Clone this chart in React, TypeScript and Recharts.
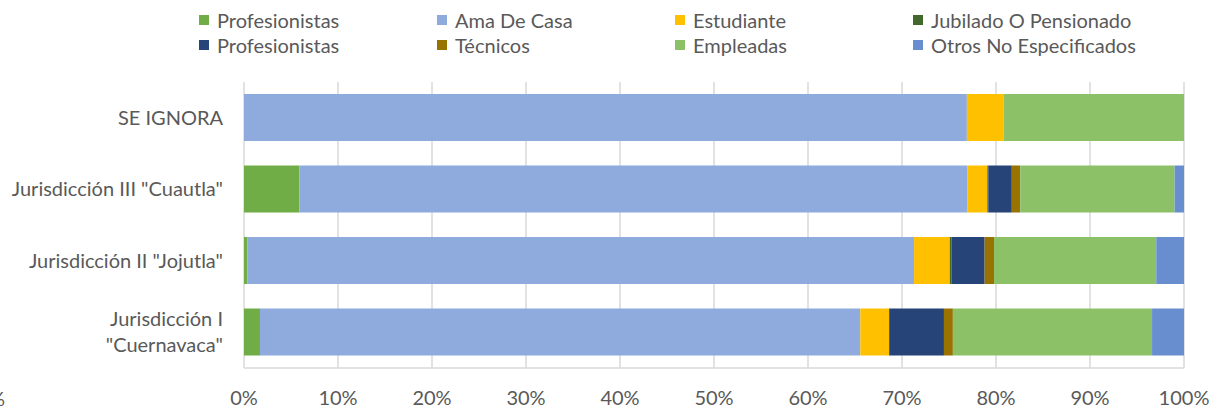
import React from "react";
import {
  BarChart,
  Bar,
  XAxis,
  YAxis,
  CartesianGrid,
  Legend,
} from "recharts";

const categories = [
  "SE IGNORA",
  'Jurisdicción III "Cuautla"',
  'Jurisdicción II "Jojutla"',
  'Jurisdicción I\n"Cuernavaca"',
];

// percentages per category (same order as categories)
const profesionistas = [0, 5.9, 0.35, 1.7];
const amaDeCasa = [76.9, 71.0, 70.9, 63.9];
const estudiante = [3.9, 2.1, 3.8, 3.05];
const jubilado = [0, 0.1, 0.2, 0.1];
const profesionistas2 = [0, 2.5, 3.5, 5.75];
const tecnicos = [0, 0.9, 1.0, 0.95];
const empleadas = [19.2, 16.4, 17.25, 21.2];
const otros = [0, 1.0, 2.95, 3.4];

const xTicks = [0, 0.1, 0.2, 0.3, 0.4, 0.5, 0.6, 0.7, 0.8, 0.9, 1];

const series = [
  { key: "prof1", name: "Profesionistas", values: profesionistas, color: "#70AD47" },
  { key: "ama", name: "Ama De Casa", values: amaDeCasa, color: "#8FAADC" },
  { key: "est", name: "Estudiante", values: estudiante, color: "#FFC000" },
  { key: "jub", name: "Jubilado O Pensionado", values: jubilado, color: "#43682B" },
  { key: "prof2", name: "Profesionistas", values: profesionistas2, color: "#264478" },
  { key: "tec", name: "Técnicos", values: tecnicos, color: "#997300" },
  { key: "emp", name: "Empleadas", values: empleadas, color: "#8CC168" },
  { key: "otros", name: "Otros No Especificados", values: otros, color: "#698ED0" },
];

const data = categories.map((name, i) => {
  const row: Record<string, string | number> = { name };
  series.forEach((s) => {
    row[s.key] = s.values[i];
  });
  return row;
});

const FONT = "Lato, 'Open Sans', sans-serif";
const TEXT = "#595959";

// legend keeps the series order (two rows of four)
const renderLegend = () => (
  <div style={{ position: "relative", width: 1212, height: 60, fontFamily: FONT }}>
    {series.map((s, i) => (
      <div
        key={s.key}
        style={{
          position: "absolute",
          left: 199 + (i % 4) * 238,
          top: 9 + Math.floor(i / 4) * 25,
          height: 22,
          display: "flex",
          alignItems: "center",
          whiteSpace: "nowrap",
        }}
      >
        <span style={{ width: 10, height: 10, background: s.color, display: "inline-block" }} />
        <span style={{ marginLeft: 8, fontSize: 20, color: TEXT }}>{s.name}</span>
      </div>
    ))}
  </div>
);

const CategoryTick = (props: any) => {
  const { x, y, payload } = props;
  const lines = String(payload.value).split("\n");
  const lh = 26;
  const start = -((lines.length - 1) * lh) / 2;
  return (
    <text x={x} y={y} textAnchor="end" fill={TEXT} fontSize={20} fontFamily={FONT}>
      {lines.map((l, i) => (
        <tspan key={i} x={x} y={y + start + i * lh} dy="0.35em">
          {l}
        </tspan>
      ))}
    </text>
  );
};

export default function App() {
  return (
    <div style={{ position: "absolute", left: 0, top: 0, width: 1212, height: 408, overflow: "hidden", background: "#fff" }}>
      <span
        style={{
          position: "absolute",
          left: -25,
          top: 386,
          width: 30,
          textAlign: "right",
          fontFamily: FONT,
          fontSize: 20,
          color: TEXT,
        }}
      >
        0%
      </span>
      <BarChart
        width={1212}
        height={408}
        data={data}
        layout="vertical"
        stackOffset="expand"
        margin={{ top: 22, right: 28, bottom: 0, left: 0 }}
      >
        <CartesianGrid horizontal={false} stroke="#d9d9d9" strokeWidth={1.5} />
        <XAxis
          type="number"
          domain={[0, 1]}
          ticks={xTicks}
          tickFormatter={(v: number) => `${Math.round(v * 100)}%`}
          tickLine={false}
          axisLine={{ stroke: "#d9d9d9", strokeWidth: 1.5 }}
          tickSize={6}
          tickMargin={17}
          height={40}
          tick={{ fill: TEXT, fontSize: 20, fontFamily: FONT }}
        />
        <YAxis
          type="category"
          dataKey="name"
          width={244}
          tickLine={false}
          axisLine={false}
          tickSize={6}
          tickMargin={15}
          tick={<CategoryTick />}
        />
        <Legend verticalAlign="top" content={renderLegend} wrapperStyle={{ top: 0, left: 0, width: 1212, height: 60 }} />
        {series.map((s) => (
          <Bar
            key={s.key}
            dataKey={s.key}
            name={s.name}
            stackId="a"
            fill={s.color}
            barSize={47}
            isAnimationActive={false}
          />
        ))}
      </BarChart>
    </div>
  );
}
